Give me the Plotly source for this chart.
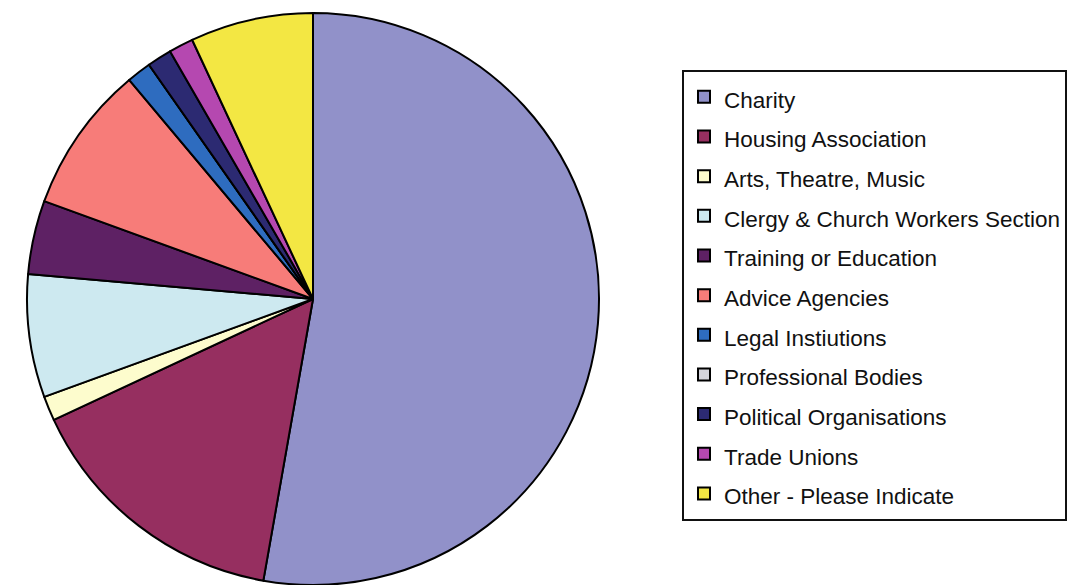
import plotly.graph_objects as go

labels = [
    "Charity",
    "Housing Association",
    "Arts, Theatre, Music",
    "Clergy & Church Workers Section",
    "Training or Education",
    "Advice Agencies",
    "Legal Instiutions",
    "Professional Bodies",
    "Political Organisations",
    "Trade Unions",
    "Other - Please Indicate",
]
values = [38, 11, 1, 5, 3, 6, 1, 0, 1, 1, 5]
colors = [
    "#9191c9", "#962f60", "#fdfccd", "#cde9f0", "#5e2164", "#f77c79",
    "#2e6cbf", "#d4d4dc", "#2c2a72", "#b548b0", "#f3e743",
]

# the page body adds an 8px margin; figure coordinates are shifted accordingly
OFF = 8
W, H = 1077 - OFF, 585 - OFF
mt, mb = 13 - OFF, 0
cx, r = 313 - OFF, 286

legend_labels = [f"<span style='font-size:22.5px'>{l}</span>" for l in labels]

fig = go.Figure(
    go.Pie(
        labels=legend_labels,
        values=values,
        sort=False,
        direction="clockwise",
        rotation=0,
        textinfo="none",
        hovertext=labels,
        hoverinfo="text+percent",
        marker=dict(colors=colors, line=dict(color="#000000", width=2)),
        domain=dict(x=[(cx - r) / W, (cx + r) / W], y=[0, 1]),
        showlegend=True,
    )
)

fig.update_layout(
    width=W,
    height=H,
    margin=dict(l=0, r=0, t=mt, b=mb),
    paper_bgcolor="white",
    plot_bgcolor="white",
    font=dict(family="Liberation Sans, Arial, sans-serif", color="#111111"),
    legend=dict(
        x=(682 - OFF) / W,
        xanchor="left",
        y=1 - (70 - OFF - mt) / (H - mt - mb),
        yanchor="top",
        font=dict(size=28.2, family="Liberation Sans, Arial, sans-serif", color="#111111"),
        bordercolor="#111111",
        borderwidth=2,
        bgcolor="white",
        traceorder="normal",
    ),
)

fig.write_html("out.html")
